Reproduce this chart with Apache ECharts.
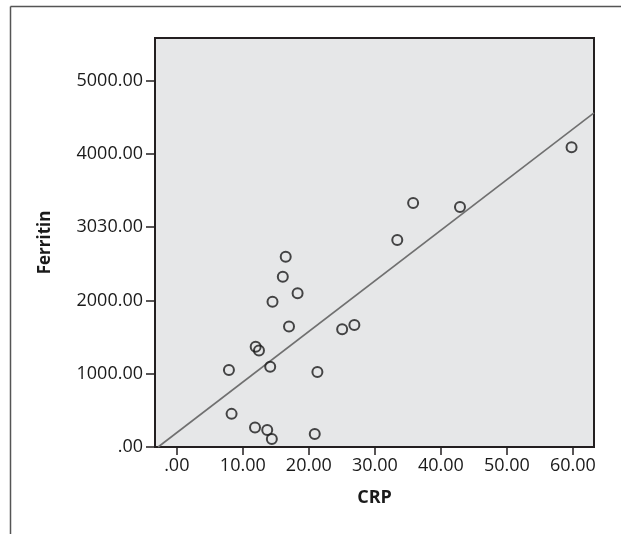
<!DOCTYPE html>
<html>
<head>
<meta charset="utf-8">
<script src="https://cdn.jsdelivr.net/npm/echarts@6/dist/echarts.min.js"></script>
<style>
html,body{margin:0;padding:0;background:#fff;}
#chart{width:621px;height:534px;}
</style>
</head>
<body>
<div id="chart"></div>
<script>
// Data
const crp = [59.8, 42.9, 35.8, 33.4, 26.9, 25.05, 16.5, 16.06, 18.3, 14.5, 17.0, 11.95, 12.45, 7.9, 14.15, 21.3, 8.3, 11.85, 13.7, 14.4, 20.9];
const ferritin = [4090, 3274, 3329, 2824, 1664, 1606, 2596, 2323, 2097, 1982, 1645, 1368, 1318, 1050, 1095, 1023, 452, 266, 232, 109, 177];
// Fit line endpoints
const fitX = [-2.83, 63.2];
const fitY = [0, 4557];
const xTicks = [0, 10, 20, 30, 40, 50, 60];
const xTickLabels = ['.00', '10.00', '20.00', '30.00', '40.00', '50.00', '60.00'];
const yTicks = [0, 1000, 2000, 3000, 4000, 5000];
const yTickLabels = ['.00', '1000.00', '2000.00', '3030.00', '4000.00', '5000.00'];

const points = crp.map((x, i) => [x, ferritin[i]]);
const fitLine = fitX.map((x, i) => [x, fitY[i]]);

const FONT = "'Open Sans', 'Noto Sans', sans-serif";
const chart = echarts.init(document.getElementById('chart'));
chart.setOption({
  animation: false,
  backgroundColor: '#ffffff',
  graphic: [
    { type: 'line', shape: { x1: 10.5, y1: 6.5, x2: 621, y2: 6.5 }, style: { stroke: '#555', lineWidth: 1.5 } },
    { type: 'line', shape: { x1: 10.5, y1: 6.5, x2: 10.5, y2: 534 }, style: { stroke: '#555', lineWidth: 1.5 } }
  ],
  grid: {
    left: 155, right: 27, top: 38, bottom: 87,
    show: true, backgroundColor: '#E6E7E8', borderColor: '#231F20', borderWidth: 2
  },
  xAxis: {
    type: 'value', min: -3.3, max: 63.2,
    name: 'CRP', nameLocation: 'middle', nameGap: 42,
    nameTextStyle: { fontFamily: FONT, fontWeight: 'bold', fontSize: 18, color: '#1a1a1a' },
    axisLine: { show: true, onZero: false, lineStyle: { color: '#231F20', width: 2 } },
    axisTick: { show: true, length: 8, customValues: xTicks, lineStyle: { color: '#231F20', width: 1.5 } },
    axisLabel: {
      customValues: xTicks, margin: 10, fontFamily: FONT, fontSize: 18, color: '#1a1a1a',
      formatter: v => xTickLabels[xTicks.indexOf(Math.round(v))] || ''
    },
    splitLine: { show: false }
  },
  yAxis: {
    type: 'value', min: 0, max: 5580,
    name: 'Ferritin', nameLocation: 'middle', nameGap: 101,
    nameTextStyle: { fontFamily: FONT, fontWeight: 'bold', fontSize: 17, color: '#1a1a1a' },
    axisLine: { show: true, onZero: false, lineStyle: { color: '#231F20', width: 2 } },
    axisTick: { show: true, length: 9, customValues: yTicks, lineStyle: { color: '#231F20', width: 1.5 } },
    axisLabel: {
      customValues: yTicks, margin: 12, fontFamily: FONT, fontSize: 18, color: '#1a1a1a',
      formatter: v => yTickLabels[yTicks.indexOf(Math.round(v))] || ''
    },
    splitLine: { show: false }
  },
  series: [
    {
      type: 'line', data: fitLine, symbol: 'none', clip: true,
      lineStyle: { color: '#707070', width: 1.6 }, z: 2
    },
    {
      type: 'scatter', data: points, symbol: 'circle', symbolSize: 10,
      itemStyle: { color: 'rgba(0,0,0,0)', borderColor: '#1a1a1a', borderWidth: 2 }, z: 3
    }
  ]
});
</script>
</body>
</html>
